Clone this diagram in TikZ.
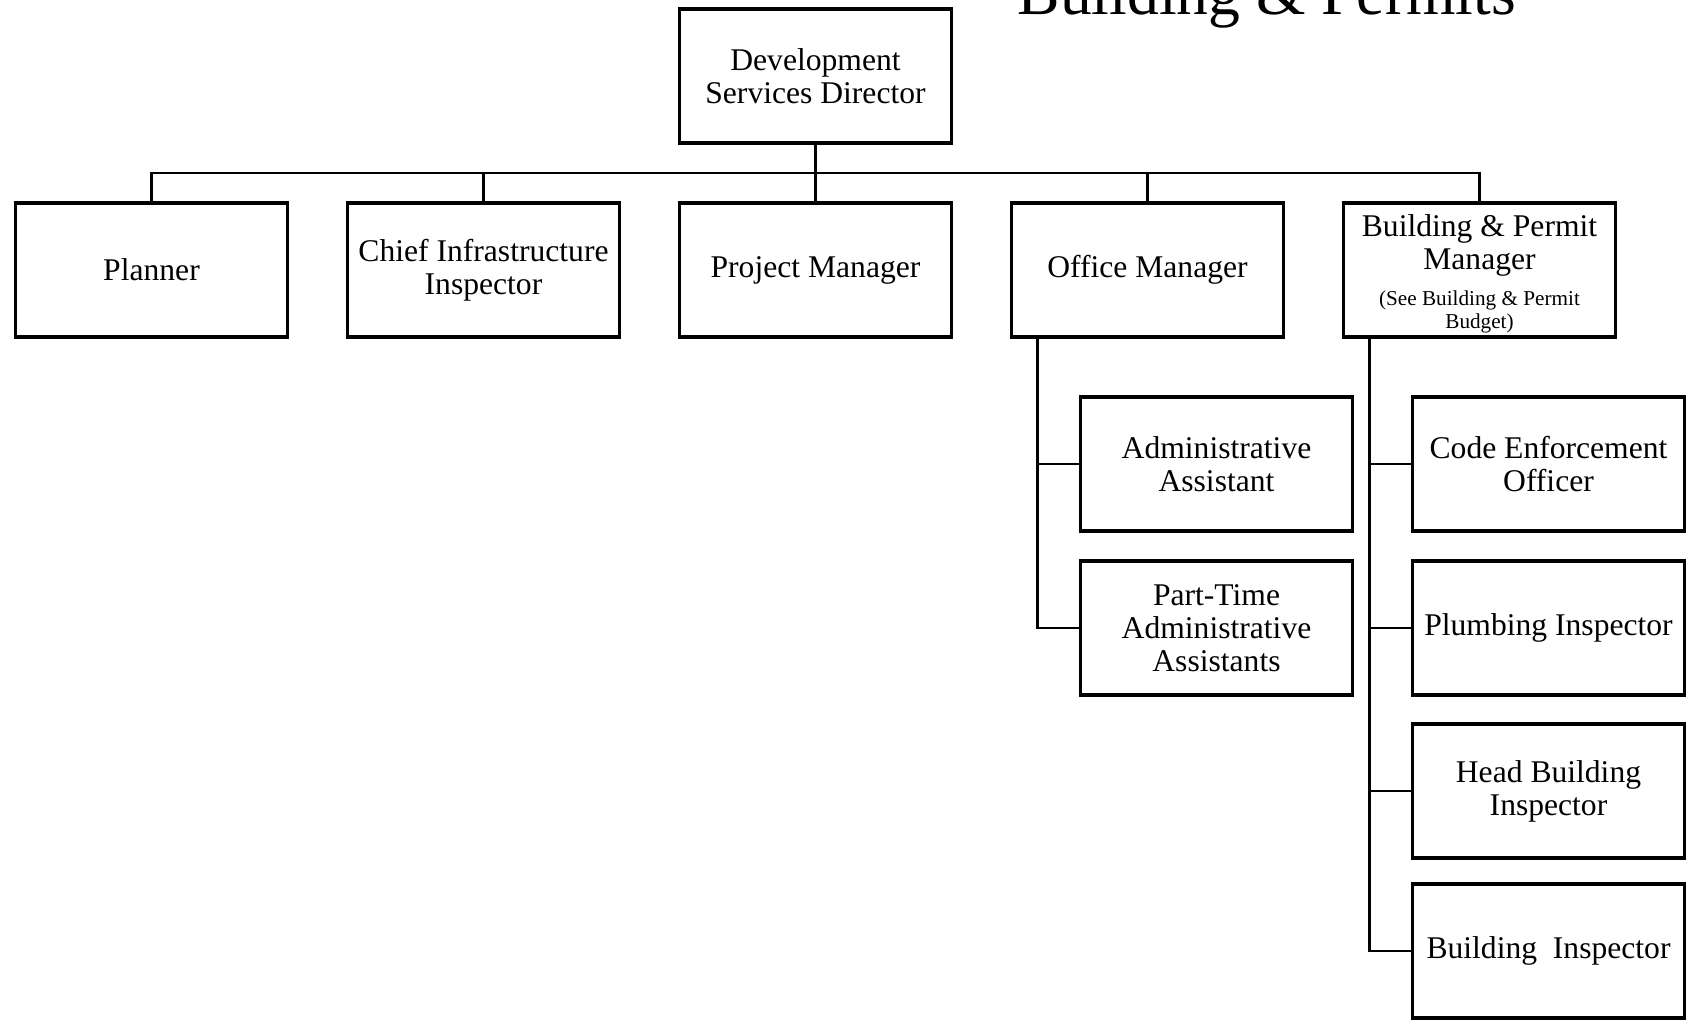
\documentclass[tikz,border=0pt]{standalone}
\usepackage{fontspec}
\setmainfont{Liberation Serif}
\usetikzlibrary{positioning,calc}

\begin{document}
\begin{tikzpicture}[x=0.5pt,y=-0.5pt,node distance=30pt,outer sep=0pt,
            jobb/.style={
                draw=black,
                line width=1.8pt,
                minimum width=136pt,
                minimum height=67pt,
                inner sep=2pt,
                align=center,
                font={\fontsize{15.8}{16.5}\selectfont}},
            link/.style={line width=1.2pt},
        ]
        \useasboundingbox (0,0) rectangle (1686,1023);

        \node[font={\fontsize{31.8}{36}\selectfont},anchor=base west] (Title) at (1011,14) {Building \& Permits};

        \node[jobb] (Dir) at (815.5,76) {Development\\Services Director};

        \node[jobb,below=of Dir] (ProjMgr) {Project Manager};
        \node[jobb,left=of ProjMgr] (Chief) {Chief Infrastructure\\Inspector};
        \node[jobb,left=of Chief] (Planner) {Planner};
        \node[jobb,right=of ProjMgr] (OffMgr) {Office Manager};
        \node[jobb,right=of OffMgr,inner ysep=0pt] (BPMgr) {\rule{0pt}{16pt}Building \& Permit\\Manager\\[5.5pt]{\fontsize{10.6}{11.3}\selectfont
            \begin{tabular}{@{}c@{}}(See Building \& Permit\\Budget)\end{tabular}}};

        \node[jobb,below=of OffMgr,xshift=34.5pt] (AdminAsst) {Administrative\\Assistant};
        \node[jobb,below=15pt of AdminAsst] (PTAdmin) {Part-Time\\Administrative\\Assistants};

        \node[jobb,below=of BPMgr,xshift=34.5pt] (CodeOff) {Code Enforcement\\Officer};
        \node[jobb,below=15pt of CodeOff] (Plumb) {Plumbing Inspector};
        \node[jobb,below=14.5pt of Plumb] (HeadInsp) {Head Building\\Inspector};
        \node[jobb,below=13pt of HeadInsp] (BldgInsp) {Building~ Inspector};

        \coordinate (bus) at ($(Dir.south)!.5!(ProjMgr.north)$);
        \draw[link] (Dir.south) -- (bus);
        \foreach \n in {Planner,Chief,ProjMgr,OffMgr,BPMgr}
            \draw[link] (bus) -| (\n.north);

        \foreach \n in {AdminAsst,PTAdmin}
            \draw[link] ([xshift=13pt]OffMgr.south west) |- (\n.west);
        \foreach \n in {CodeOff,Plumb,HeadInsp,BldgInsp}
            \draw[link] ([xshift=13pt]BPMgr.south west) |- (\n.west);
    \end{tikzpicture}
\end{document}
